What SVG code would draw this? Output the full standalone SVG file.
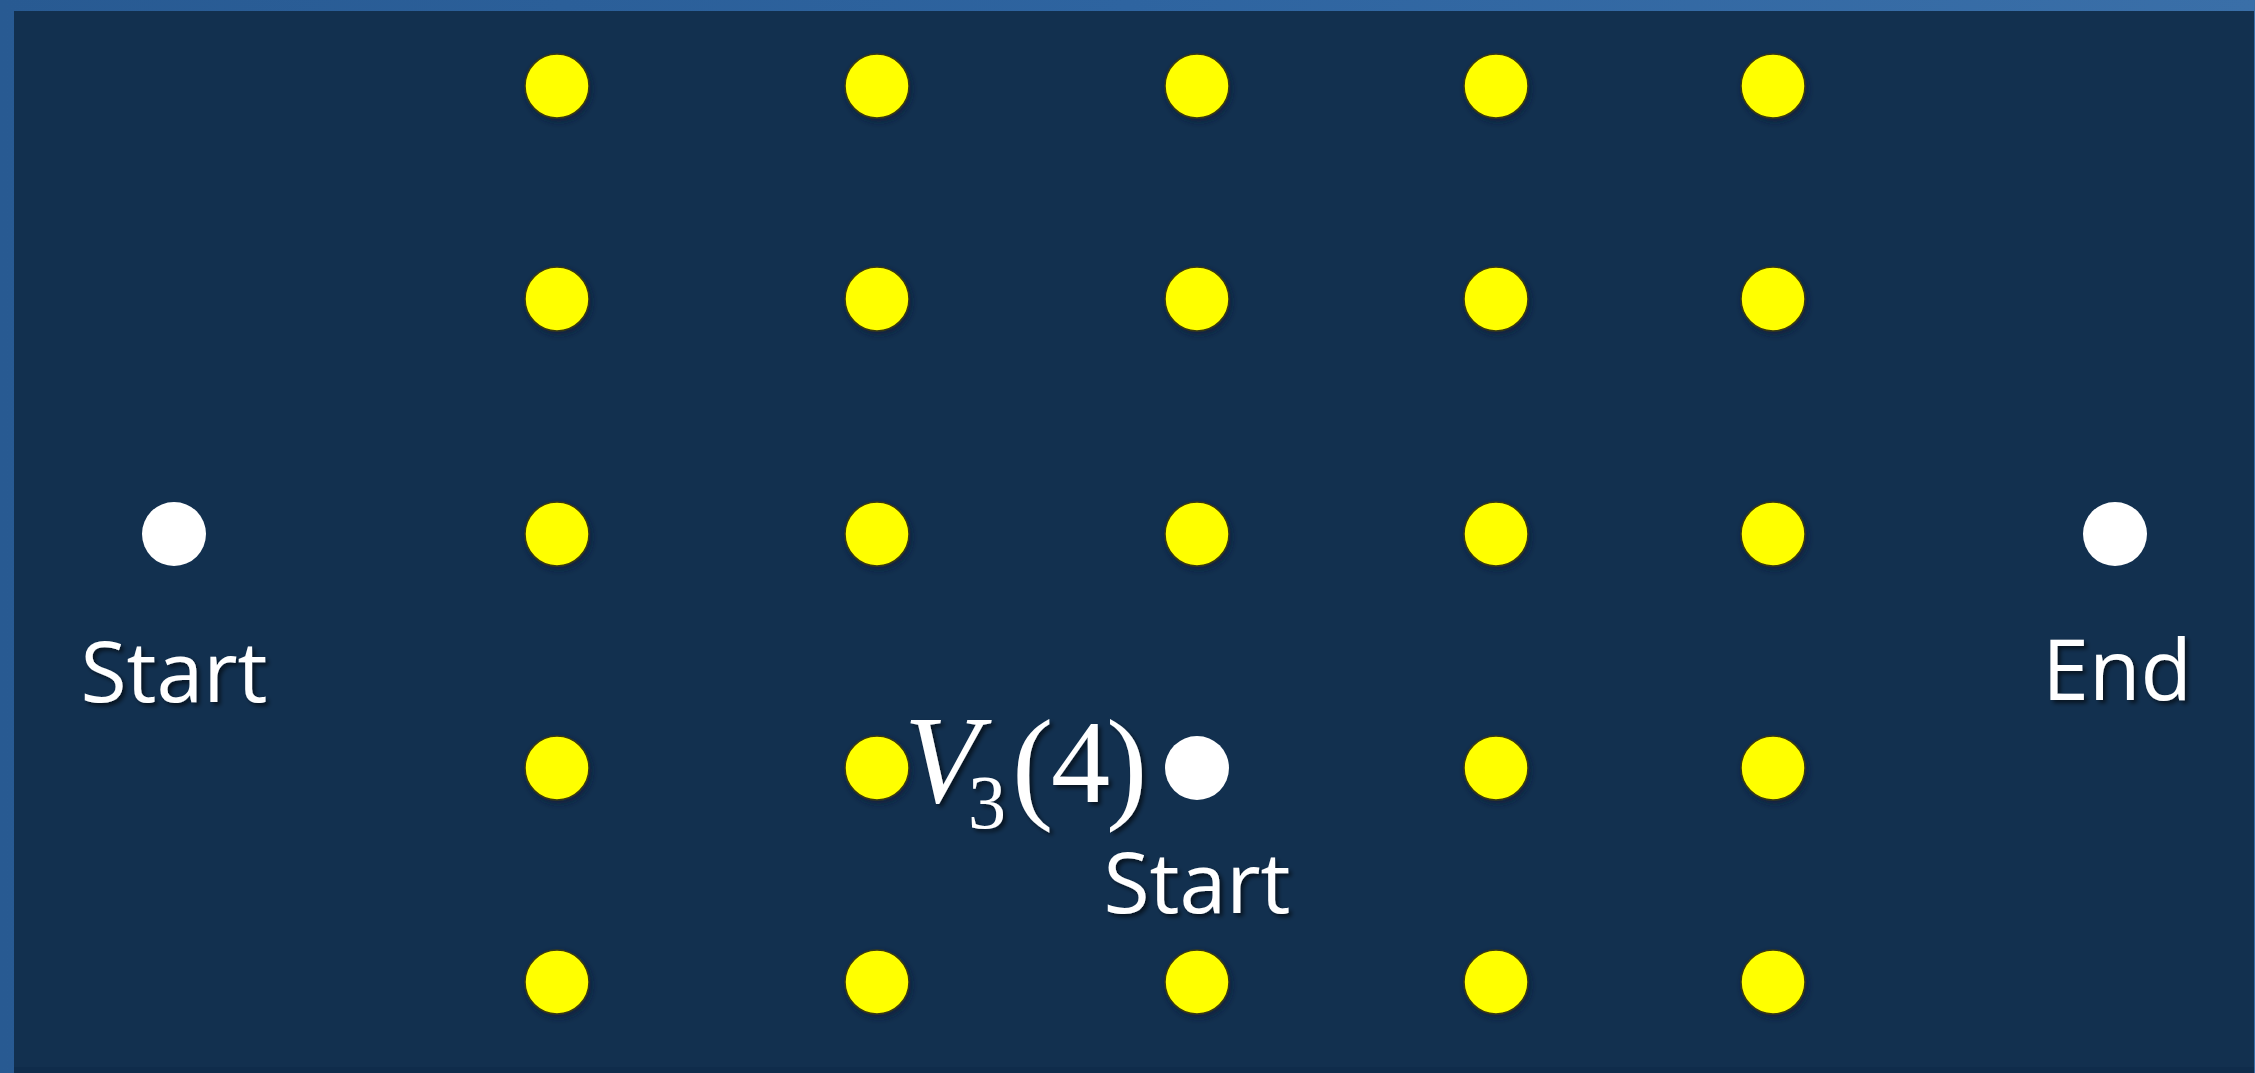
<svg xmlns="http://www.w3.org/2000/svg" width="2255" height="1073" viewBox="0 0 2255 1073">
  <defs>
    <linearGradient id="frame" x1="0" y1="0" x2="1" y2="0">
      <stop offset="0" stop-color="#285a92"/>
      <stop offset="0.5" stop-color="#2e64a0"/>
      <stop offset="1" stop-color="#3a6fa8"/>
    </linearGradient>
    <filter id="shadow" x="-20%" y="-20%" width="140%" height="140%">
      <feDropShadow dx="3" dy="3" stdDeviation="2" flood-color="#000000" flood-opacity="0.6"/>
    </filter>
    <filter id="glow" x="-50%" y="-50%" width="200%" height="200%">
      <feDropShadow dx="2" dy="3" stdDeviation="3" flood-color="#0a1e33" flood-opacity="0.7"/>
    </filter>
  </defs>
  <style>
    .y { fill: #ffff00; stroke: #3a3a10; stroke-width: 1.5; filter: url(#glow); }
    .w { fill: #ffffff; }
    .lbl { font-family: "Open Sans", "Liberation Sans", sans-serif; font-size: 84px; fill: #ffffff; filter: url(#shadow); }
    .math { font-family: "Liberation Serif", "DejaVu Serif", serif; fill: #ffffff; filter: url(#shadow); }
  </style>
  <rect x="0" y="0" width="2255" height="1073" fill="url(#frame)"/>
  <rect x="14" y="11" width="2240" height="1062" fill="#12304f"/>
  <rect x="14" y="1067" width="2240" height="6" fill="#0f2c4b"/>

  <g id="grid">
    <g id="r1">
      <circle class="y" cx="557" cy="86" r="32"/>
      <circle class="y" cx="877" cy="86" r="32"/>
      <circle class="y" cx="1197" cy="86" r="32"/>
      <circle class="y" cx="1496" cy="86" r="32"/>
      <circle class="y" cx="1773" cy="86" r="32"/>
    </g>
    <g id="r2">
      <circle class="y" cx="557" cy="299" r="32"/>
      <circle class="y" cx="877" cy="299" r="32"/>
      <circle class="y" cx="1197" cy="299" r="32"/>
      <circle class="y" cx="1496" cy="299" r="32"/>
      <circle class="y" cx="1773" cy="299" r="32"/>
    </g>
    <g id="r3">
      <circle class="y" cx="557" cy="534" r="32"/>
      <circle class="y" cx="877" cy="534" r="32"/>
      <circle class="y" cx="1197" cy="534" r="32"/>
      <circle class="y" cx="1496" cy="534" r="32"/>
      <circle class="y" cx="1773" cy="534" r="32"/>
    </g>
    <g id="r4">
      <circle class="y" cx="557" cy="768" r="32"/>
      <circle class="y" cx="877" cy="768" r="32"/>
      <circle class="y" cx="1496" cy="768" r="32"/>
      <circle class="y" cx="1773" cy="768" r="32"/>
    </g>
    <g id="r5">
      <circle class="y" cx="557" cy="982" r="32"/>
      <circle class="y" cx="877" cy="982" r="32"/>
      <circle class="y" cx="1197" cy="982" r="32"/>
      <circle class="y" cx="1496" cy="982" r="32"/>
      <circle class="y" cx="1773" cy="982" r="32"/>
    </g>
  </g>

  <g id="start-left">
    <circle class="w" cx="174" cy="534" r="32"/>
    <text class="lbl" x="174" y="702" text-anchor="middle">Start</text>
  </g>

  <g id="end-right">
    <circle class="w" cx="2115" cy="534" r="32"/>
    <text class="lbl" x="2117" y="700" text-anchor="middle">End</text>
  </g>

  <g id="start-mid">
    <circle class="w" cx="1197" cy="768" r="32"/>
    <text class="lbl" x="1197" y="913" text-anchor="middle">Start</text>
  </g>

  <g id="v3-label">
    <text class="math"><tspan x="904" y="802" font-size="124" font-style="italic">V</tspan><tspan x="968" y="828" font-size="76">3</tspan><tspan x="1012" y="806" font-size="124">(</tspan><tspan x="1051" y="802" font-size="118">4</tspan><tspan x="1106" y="806" font-size="124">)</tspan></text>
  </g>
</svg>
